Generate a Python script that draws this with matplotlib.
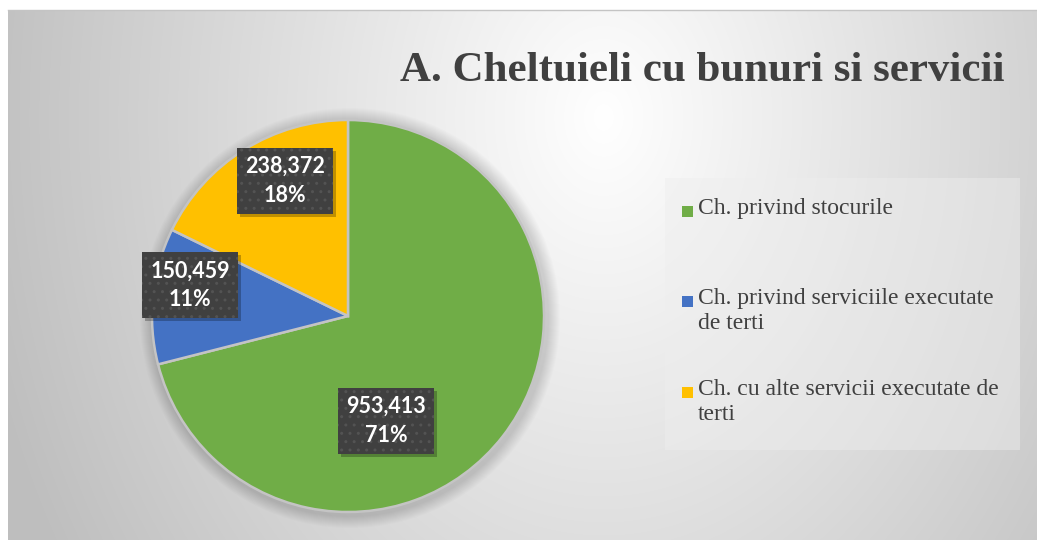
import numpy as np
import matplotlib.pyplot as plt
from matplotlib.patches import Rectangle, Circle

# data
categories = ['Ch. privind stocurile',
              'Ch. privind serviciile executate\nde terti',
              'Ch. cu alte servicii executate de\nterti']
values = [953413, 150459, 238372]
colors = ['#70AD47', '#4472C4', '#FFC000']

W, H = 1037, 540
fig = plt.figure(figsize=(W / 100, H / 100), dpi=100)
ax = fig.add_axes([0, 0, 1, 1])

# radial gradient background (chart area)
yy, xx = np.mgrid[0:H, 0:W]
d = np.sqrt((xx - 600) ** 2 + ((yy - (H - 110)) * 0.75) ** 2)
shade = 1.0 - 0.22 * np.clip(d / 560, 0, 1.15)
bg = np.dstack([shade, shade, shade])
ax.imshow(bg, extent=(8, W, 0, H - 10), origin='lower', zorder=0, aspect='auto')

# pie
cx, cy, r = 348, H - 316, 196
# soft shadow behind the pie
for k in range(12):
    ax.add_patch(Circle((cx + 2, cy - 2), r + 14 - k, facecolor='black',
                        alpha=0.012, linewidth=0, zorder=1))
wedges, _ = ax.pie(values, colors=colors, startangle=90, counterclock=False,
                   center=(cx, cy), radius=r, explode=[0.03, 0.03, 0.03],
                   wedgeprops=dict(edgecolor='#c4c4c4', linewidth=1.8))
for w in wedges:
    w.set_zorder(2)

ax.set_xlim(0, W)
ax.set_ylim(0, H)
ax.set_aspect('equal')
ax.axis('off')

# data labels (angle in degrees, distance as fraction of radius)
label_pos = [(-70, 0.57), (169, 0.82), (115, 0.76)]
total = sum(values)
bw, bh = 96, 66
for v, (ang, dist) in zip(values, label_pos):
    lx = cx + dist * r * np.cos(np.radians(ang))
    ly = cy + dist * r * np.sin(np.radians(ang))
    ax.add_patch(Rectangle((lx - bw / 2 + 3, ly - bh / 2 - 3), bw, bh,
                           facecolor='black', alpha=0.25, linewidth=0, zorder=3))
    ax.add_patch(Rectangle((lx - bw / 2, ly - bh / 2), bw, bh,
                           facecolor='#404040', edgecolor='#535353', hatch='..',
                           linewidth=0, zorder=4))
    ax.text(lx, ly, f'{v:,}\n{v / total:.0%}', ha='center', va='center',
            color='white', fontsize=15.5, fontweight='bold', family='Lato',
            linespacing=1.45, zorder=5)

# title
ax.text(1005, H - 71, 'A. Cheltuieli cu bunuri si servicii', ha='right', va='center',
        fontsize=31, fontweight='bold', family='Liberation Serif', color='#404040')

# legend
ax.add_patch(Rectangle((665, H - 450), 355, 272, facecolor='#eeeeee', alpha=0.45,
                       linewidth=0, zorder=1))
leg_y = [211, 301, 392]
for cat, col, y in zip(categories, colors, leg_y):
    ax.add_patch(Rectangle((682, H - y - 6), 11, 11, facecolor=col, linewidth=0, zorder=2))
    ax.text(698, H - y + 13, cat, ha='left', va='top', fontsize=17,
            family='Liberation Serif', color='#404040', linespacing=1.22, zorder=3)

# top border line
ax.plot([8, W], [H - 10, H - 10], color='#c4c4c4', linewidth=1, zorder=1)

fig.savefig('out.png', dpi=100)
